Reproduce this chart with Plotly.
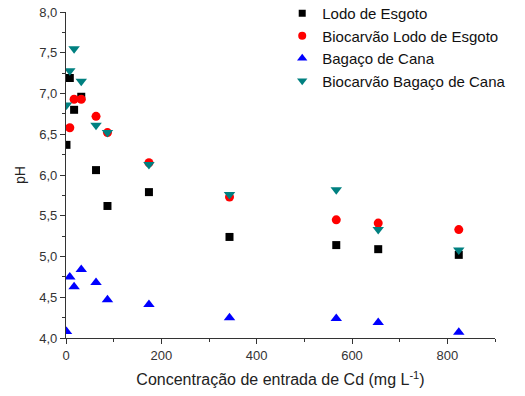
import plotly.graph_objects as go

conc_x = [1, 8, 17, 32, 63, 87, 174, 343, 567, 655, 824]
lodo = [6.37, 7.19, 6.80, 6.96, 6.06, 5.62, 5.79, 5.24, 5.14, 5.09, 5.02]
bio_lodo = [None, 6.58, 6.93, 6.93, 6.72, 6.52, 6.15, 5.73, 5.45, 5.41, 5.33]
bagaco = [4.08, 4.75, 4.63, 4.84, 4.68, 4.47, 4.41, 4.25, 4.24, 4.19, 4.07]
bio_bagaco = [6.86, 7.28, 7.55, 7.15, 6.61, 6.52, 6.13, 5.76, 5.82, 5.33, 5.08]

names = ["Lodo de Esgoto", "Biocarvão Lodo de Esgoto", "Bagaço de Cana", "Biocarvão Bagaço de Cana"]
series = [lodo, bio_lodo, bagaco, bio_bagaco]
symbols = ["square", "circle", "triangle-up", "triangle-down"]
colors = ["#000000", "#ff0000", "#0000ff", "#008080"]
sizes = [8, 9, 10, 10]
legend_sizes = [7, 8, 9, 9]

fig = go.Figure()
for n, s, sym, c, sz in zip(names, series, symbols, colors, sizes):
    fig.add_trace(go.Scatter(x=conc_x, y=s, mode="markers", name=n, showlegend=False,
                             marker=dict(symbol=sym, size=sz, color=c)))
for n, sym, c, sz in zip(names, symbols, colors, legend_sizes):
    fig.add_trace(go.Scatter(x=[None], y=[None], mode="markers", name=n, showlegend=True,
                             marker=dict(symbol=sym, size=sz, color=c)))

tickfont = dict(family="Liberation Sans, Arial", size=13, color="#333333")
axis_common = dict(showline=True, linecolor="#333333", linewidth=1.2, ticks="outside",
                   ticklen=5, tickcolor="#333333", showgrid=False, zeroline=False,
                   automargin=False, ticklabeloverflow="allow", tickfont=tickfont)

fig.update_layout(
    width=525, height=396,
    margin=dict(l=66, r=30, t=12, b=58, autoexpand=False),
    paper_bgcolor="white", plot_bgcolor="white",
    separators=", ",
    font=dict(family="Liberation Sans, Arial", size=13, color="#222222"),
    xaxis=dict(range=[0, 900], dtick=200, tick0=0,
               minor=dict(ticks="outside", ticklen=3, dtick=100, tickcolor="#333333"),
               title=dict(text="Concentração de entrada de Cd (mg L<sup>-1</sup>)",
                          font=dict(size=16, color="#222222"), standoff=12),
               **axis_common),
    yaxis=dict(range=[4.0, 8.0], dtick=0.5, tick0=4.0, tickformat=".1f",
               minor=dict(ticks="outside", ticklen=3, dtick=0.25, tickcolor="#333333"),
               title=dict(text="pH", font=dict(size=14, color="#222222"), standoff=10),
               **axis_common),
    legend=dict(x=0.504, y=1.046, xanchor="left", yanchor="top", bgcolor="rgba(0,0,0,0)",
                font=dict(size=15, color="#111111"), tracegroupgap=0),
    showlegend=True,
)

fig.write_html("out.html", config={"displayModeBar": False},
               post_script="document.body.style.margin='0px';")
